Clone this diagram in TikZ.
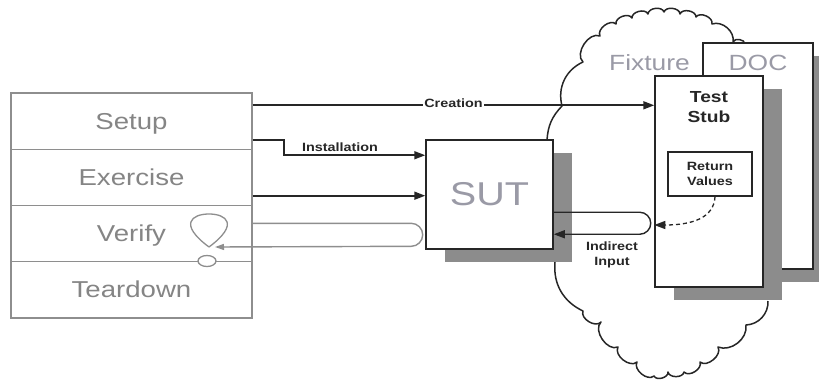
\documentclass[tikz,border=0pt]{standalone}
\usepackage{fontspec}
\setmainfont{Liberation Sans}[FakeStretch=1.2]
\usetikzlibrary{arrows.meta,shadows}

\definecolor{stagegray}{HTML}{8E8E8E}
\definecolor{stagetext}{HTML}{858585}
\definecolor{shadowgray}{HTML}{8C8C8C}
\definecolor{ink}{HTML}{262626}
\definecolor{softtext}{HTML}{9A9AA6}

\begin{document}
\begin{tikzpicture}[x=1pt,y=1pt,
  stage/.style={draw=stagegray, line width=1.4pt, fill=white, inner sep=0pt,
    minimum width=241pt, minimum height=56.25pt, text height=20pt, text depth=4pt,
    text=stagetext, font=\fontsize{23}{27}\selectfont},
  box/.style={draw=ink, line width=1.5pt, fill=white, inner sep=0pt},
  shadowed/.style={drop shadow={shadow xshift=19pt, shadow yshift=-13pt,
    fill=shadowgray, opacity=1}},
  lbl/.style={font=\bfseries\fontsize{12}{14.5}\selectfont, text=ink},
  arr/.style={draw=ink, line width=1.8pt, -{Triangle[length=11pt,width=8pt]}},
  loopline/.style={draw=ink, line width=1.4pt, -{Triangle[length=11pt,width=8pt]}},
  vloop/.style={draw=stagegray, line width=1.4pt, -{Triangle[length=9pt,width=6pt]}},
  dasharrow/.style={draw=ink, line width=1.3pt, dash pattern=on 4pt off 3pt,
    -{Triangle[length=11pt,width=8pt]}},
  cloudline/.style={draw=ink, line width=1.5pt, line join=round},
  scallop/.style={bend left=80},
  scallopdown/.style={bend right=80}
]
\path[use as bounding box, clip] (0,0) rectangle (819,-380);

% the fixture cloud, upper and lower halves (boxes are laid over it)
\draw[cloudline] (547,-140) to[bend left=20] (562,-106) to[bend left=40] (583,-62)
  to[scallop] (600,-36) to[scallop] (616,-24) to[scallop] (632,-18)
  to[scallop] (648,-14) to[scallop] (664,-12) to[scallop] (680,-14)
  to[scallop] (696,-17) to[scallop] (712,-24) to[bend left=60] (733,-42)
  to[scallop] (745,-44);
\draw[cloudline] (555,-262) to[bend right=35] (583,-311) to[scallopdown] (601,-322)
  to[scallopdown] (618,-347) to[scallopdown] (637,-362) to[scallopdown] (654,-376)
  to[scallopdown] (668,-372) to[scallopdown] (684,-372) to[scallopdown] (700,-362)
  to[scallopdown] (718,-347) to[bend right=60] (746,-325) to[bend right=45] (768,-301);

% depended-on component and the test stub in front of it
\node[box, shadowed, minimum width=110pt, minimum height=226pt] (doc) at (758,-156) {};
\node[anchor=base, text=softtext, font=\fontsize{22}{26}\selectfont] (doclbl) at (758,-70) {DOC};
\node[anchor=base, text=softtext, font=\fontsize{22}{26}\selectfont] (fixture) at (649.5,-70) {Fixture};

\node[box, shadowed, minimum width=108pt, minimum height=211pt] (stub) at (709,-181.5) {};
\node[anchor=north, align=center, inner sep=0pt, text=ink,
  font=\bfseries\fontsize{16}{20}\selectfont] (stubname) at (709,-91) {Test\\Stub};
\node[box, line width=1.2pt, minimum width=84pt, minimum height=44pt, align=center,
  text=ink, font=\bfseries\fontsize{12}{14.5}\selectfont] (retval) at (710,-174) {Return\\Values};

% system under test
\node[box, shadowed, minimum width=127pt, minimum height=109pt, text=softtext,
  font=\fontsize{33}{36}\selectfont] (sut) at (489.5,-194.5) {SUT};

% four-phase test stack
\node[stage] (setup)    at (131.5,-121.125) {Setup};
\node[stage] (exercise) at (131.5,-177.375) {Exercise};
\node[stage] (verify)   at (131.5,-233.625) {Verify};
\node[stage] (teardown) at (131.5,-289.875) {Teardown};

% creation of the stub
\coordinate (crS) at ([yshift=-13pt]setup.north east);
\draw[arr] (crS) -- (crS -| stub.west)
  node[lbl, midway, anchor=mid, fill=white, inner sep=1.5pt] (creation) {Creation};

% installation of the stub into the SUT
\coordinate (inS) at ([yshift=10pt]setup.south east);
\coordinate (inE) at ([yshift=-16pt]sut.north west);
\draw[arr] (inS) -- ++(31,0) |- (inE);
\node[lbl, anchor=base] (install) at (340,-151) {Installation};

% exercise call
\coordinate (exS) at ([yshift=10.5pt]exercise.south east);
\draw[arr] (exS) -- (exS -| sut.west);

% indirect input returned to the SUT
\coordinate (iiS) at ([yshift=-73pt]sut.north east);
\coordinate (iiE) at ([yshift=-95pt]sut.north east);
\draw[loopline] (iiS) -- ++(86,0) arc[start angle=90, end angle=-90, radius=11] -- (iiE);
\node[lbl, anchor=north, align=center, inner sep=0pt] (indirect) at (612,-242) {Indirect\\Input};

% return values fed through the stub
\coordinate (dsS) at ([xshift=5pt]retval.south);
\coordinate (dsE) at ([yshift=-43.5pt]stub.west);
\draw[dasharrow] (dsS) .. controls (714,-218) and (692,-225) .. (dsE);

% verification loop
\coordinate (vS) at ([yshift=-18.5pt]verify.north east);
\coordinate (vE) at (215,-247);
\draw[vloop] (vS) -- ++(158.5,0) arc[start angle=90, end angle=-90, radius=11.5] -- (vE);
\coordinate (lp) at (209,-247);
\draw[draw=stagegray, line width=1.3pt] (lp) .. controls (178,-224) and (192,-214) .. (209,-214)
  .. controls (226,-214) and (240,-224) .. (lp);
\draw[draw=stagegray, line width=1.3pt, fill=white] (207,-261) ellipse[x radius=9, y radius=5.5];
\end{tikzpicture}
\end{document}
